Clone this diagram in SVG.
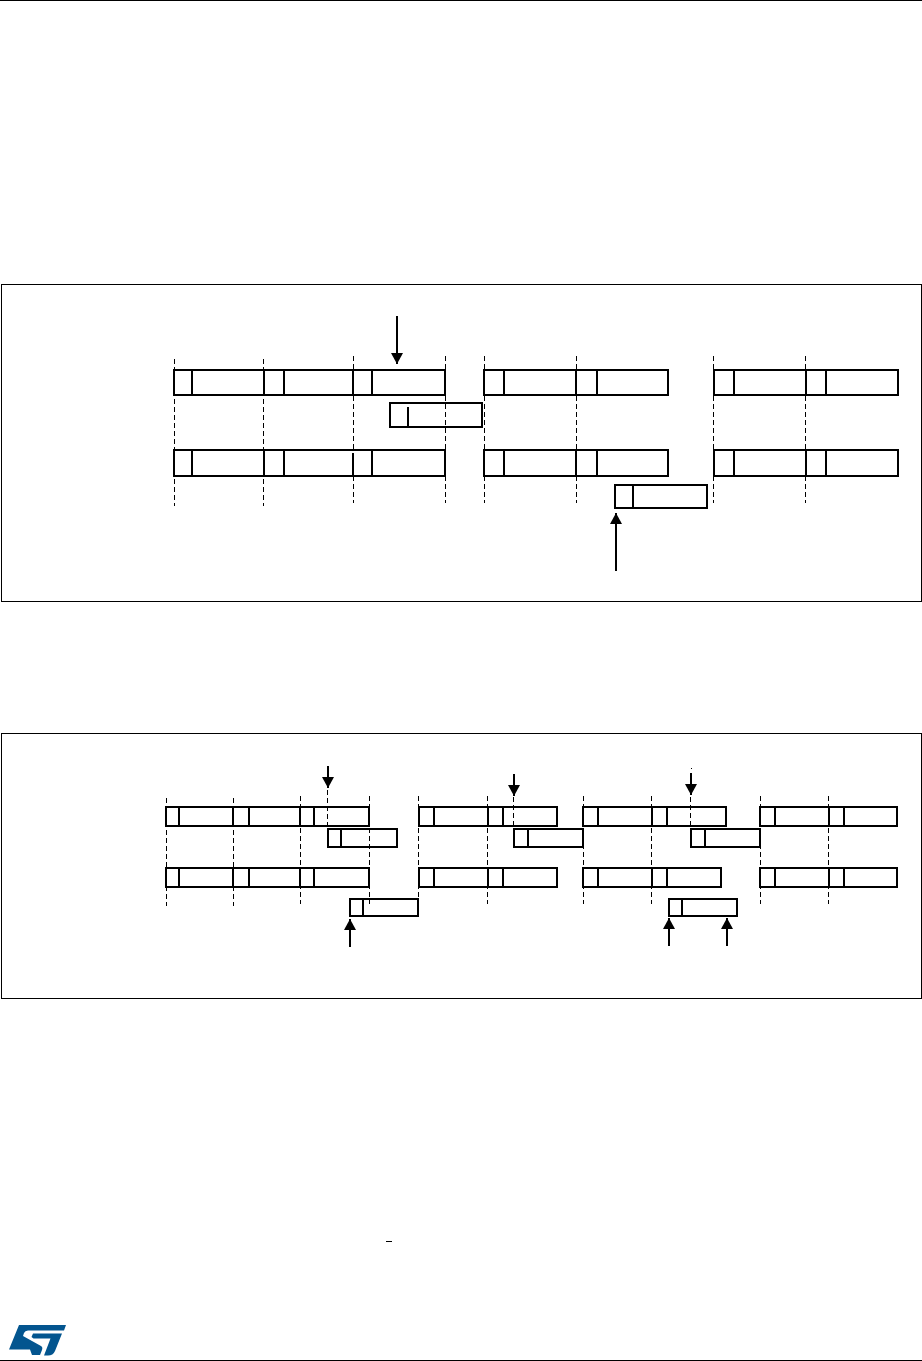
<svg xmlns="http://www.w3.org/2000/svg" width="922" height="1361" viewBox="0 0 922 1361">
<style>
.frame{fill:#fff;stroke:#000;stroke-width:1}
.rule{stroke:#000;stroke-width:1;fill:none}
.dash{stroke:#000;stroke-width:1;stroke-dasharray:5 3;fill:none}
.slot{fill:#fff;stroke:#000;stroke-width:2}
.float{fill:none;stroke:#000;stroke-width:2}
.div{stroke:#000;stroke-width:2;fill:none}
.arrow{stroke:#000;stroke-width:2;fill:none;marker-end:url(#head)}
.tick{stroke:#000;stroke-width:1;fill:none}
</style>
<defs>
<marker id="head" markerUnits="userSpaceOnUse" markerWidth="12" markerHeight="12" refX="11" refY="6" orient="auto">
<path d="M0 0L11 6L0 12Z" fill="#000"/>
</marker>
</defs>
<rect width="922" height="1361" fill="#fff"/>
<g id="page-rules">
<line class="rule" x1="0" y1="0.5" x2="922" y2="0.5"/>
<line class="rule" x1="0" y1="1360.5" x2="922" y2="1360.5"/>
</g>
<g id="frames">
<rect id="frame-1" class="frame" x="1.5" y="284.5" width="920" height="317"/>
<rect id="frame-2" class="frame" x="1.5" y="733.5" width="920" height="265"/>
</g>
<g id="connectors">
<path class="dash" d="M174.500 359V506M263.500 359V506M353.500 356V503M445.500 356V503M484.500 356V503M576.500 356V503M713.500 356V503M805.500 356V503"/>
<path class="dash" d="M166.500 798V906M233.500 798V906M300.500 796V904M369.500 796V904M418.500 796V898M487.500 796V904M583.500 796V904M651.500 796V904M760.500 796V904M828.500 796V904"/>
</g>
<g id="diagram-1-slots">
<g id="d1-r1-a"><rect class="slot" x="174" y="370" width="271" height="25"/><path class="div" d="M192 370V395M264 370V395M284 370V395M353 370V395M372 370V395"/></g>
<g id="d1-r1-b"><rect class="slot" x="484" y="370" width="184" height="25"/><path class="div" d="M504 370V395M576 370V395M597 370V395"/></g>
<g id="d1-r1-c"><rect class="slot" x="714" y="370" width="184" height="25"/><path class="div" d="M734 370V395M806 370V395M826 370V395"/></g>
<g id="d1-r2-a"><rect class="slot" x="174" y="450" width="271" height="26"/><path class="div" d="M192 450V476M264 450V476M284 450V476M353 453V476M372 450V476"/></g>
<g id="d1-r2-b"><rect class="slot" x="484" y="450" width="184" height="26"/><path class="div" d="M504 450V476M576 450V476M597 450V476"/></g>
<g id="d1-r2-c"><rect class="slot" x="714" y="450" width="184" height="26"/><path class="div" d="M734 450V476M806 450V476M826 450V476"/></g>
<g id="d1-float-1"><rect class="float" x="390" y="403" width="92" height="24"/><path class="div" d="M408 407V427"/></g>
<g id="d1-float-2"><rect class="float" x="615" y="485" width="92" height="23"/><path class="div" d="M633 485V508"/></g>
</g>
<g id="diagram-2-slots">
<g id="d2-r1-a"><rect class="slot" x="166" y="807" width="203" height="19"/><path class="div" d="M179 807V826M233 807V826M249 807V826M300 807V826M314 807V826"/></g>
<g id="d2-r1-b"><rect class="slot" x="419" y="807" width="138" height="19"/><path class="div" d="M434 807V826M488 807V826M503 807V826"/></g>
<g id="d2-r1-c"><rect class="slot" x="583" y="807" width="143" height="19"/><path class="div" d="M598 807V826M652 807V826M667 807V826"/></g>
<g id="d2-r1-d"><rect class="slot" x="760" y="807" width="137" height="19"/><path class="div" d="M775 807V826M829 807V826M844 807V826"/></g>
<g id="d2-r2-a"><rect class="slot" x="166" y="868" width="203" height="19"/><path class="div" d="M179 868V887M233 868V887M249 868V887M300 868V887M314 868V887"/></g>
<g id="d2-r2-b"><rect class="slot" x="419" y="868" width="138" height="19"/><path class="div" d="M434 868V887M488 868V887M503 868V887"/></g>
<g id="d2-r2-c"><rect class="slot" x="583" y="868" width="138" height="19"/><path class="div" d="M598 868V887M652 868V887M667 868V887"/></g>
<g id="d2-r2-d"><rect class="slot" x="760" y="868" width="137" height="19"/><path class="div" d="M775 868V887M829 868V887M844 868V887"/></g>
<g id="d2-float-1"><rect class="float" x="328" y="829" width="69" height="18"/><path class="div" d="M341 829V847"/></g>
<g id="d2-float-2"><rect class="float" x="514" y="829" width="69" height="18"/><path class="div" d="M528 829V847"/></g>
<g id="d2-float-3"><rect class="float" x="691" y="829" width="69" height="18"/><path class="div" d="M705 829V847"/></g>
<g id="d2-float-4"><rect class="float" x="350" y="899" width="68" height="17"/><path class="div" d="M363 899V916"/></g>
<g id="d2-float-5"><rect class="float" x="669" y="899" width="68" height="17"/><path class="div" d="M682 899V916"/></g>
</g>
<g id="arrows">
<path class="dash" d="M327.500 790V829M513.500 797V829M690.500 797V829"/>
<line class="arrow" x1="397" y1="316" x2="397" y2="364"/>
<line class="arrow" x1="616" y1="571" x2="616" y2="513"/>
<line class="arrow" x1="328" y1="766" x2="328" y2="788"/>
<line class="arrow" x1="514" y1="774" x2="514" y2="796"/>
<line class="arrow" x1="691" y1="773" x2="691" y2="795"/>
<line class="arrow" x1="350" y1="947" x2="350" y2="919"/>
<line class="arrow" x1="669" y1="946" x2="669" y2="918"/>
<line class="arrow" x1="727" y1="946" x2="727" y2="918"/>
</g>
<g id="specks">
<path d="M445 867H449V868.500H445Z" fill="#000"/>
<line class="tick" x1="386" y1="1241.500" x2="392" y2="1241.500"/>
<line class="tick" x1="691.500" y1="768" x2="691.500" y2="769"/>
</g>
<g id="st-logo" fill="#03558f">
<path d="M19 1325H66L64 1330.500H28Q25 1330.500 24 1333L23 1336L41 1346Q43 1347 42 1350L40 1355H32L30 1349.500H9Z"/>
<path d="M33 1333.500H62L55 1351Q53 1355.500 48 1355.500H44L50.500 1338.500H33.500L31.500 1337Z"/>
</g>
</svg>
